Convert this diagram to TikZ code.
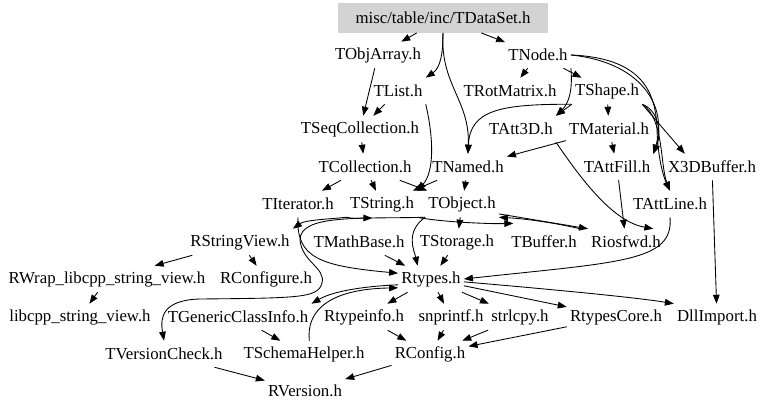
\documentclass[tikz,border=0pt]{standalone}
\usepackage{fontspec}
\setmainfont{Liberation Serif}
\usetikzlibrary{arrows.meta}
\definecolor{incline}{HTML}{000000}
\definecolor{rootfill}{HTML}{D3D3D3}

\begin{document}
\begin{tikzpicture}[x=0.75pt, y=-0.75pt,
  hdr/.style={font=\fontsize{12.6}{14}\selectfont, inner xsep=2.25pt, inner ysep=0pt,
              minimum height=19.5pt},
  root/.style={hdr, fill=rootfill, minimum width=158pt, minimum height=22pt},
  inc/.style={-{Triangle[length=6.75pt,width=5pt]}, draw=incline, line width=0.65pt}
]
\useasboundingbox (0,0) rectangle (768,410);
\node[root] (ds) at (443,18) {misc/table/inc/TDataSet.h};
\node[hdr] (objarray) at (378,55) {TObjArray.h};
\node[hdr] (tnode) at (538,55) {TNode.h};
\node[hdr] (tlist) at (398,91) {TList.h};
\node[hdr] (trotmatrix) at (510,91) {TRotMatrix.h};
\node[hdr] (tshape) at (607,91) {TShape.h};
\node[hdr] (tseqcoll) at (360,129) {TSeqCollection.h};
\node[hdr] (tatt3d) at (521,129) {TAtt3D.h};
\node[hdr] (tmaterial) at (609,129) {TMaterial.h};
\node[hdr] (tcollection) at (365,167) {TCollection.h};
\node[hdr] (tnamed) at (468,167) {TNamed.h};
\node[hdr] (tattfill) at (617,167) {TAttFill.h};
\node[hdr] (x3dbuffer) at (712,167) {X3DBuffer.h};
\node[hdr] (titerator) at (298,204) {TIterator.h};
\node[hdr] (tstring) at (382,204) {TString.h};
\node[hdr] (tobject) at (462,204) {TObject.h};
\node[hdr] (tattline) at (670,204) {TAttLine.h};
\node[hdr] (rstringview) at (240,242) {RStringView.h};
\node[hdr] (tmathbase) at (359,242) {TMathBase.h};
\node[hdr] (tstorage) at (457,242) {TStorage.h};
\node[hdr] (tbuffer) at (544,242) {TBuffer.h};
\node[hdr] (riosfwd) at (626,242) {Riosfwd.h};
\node[hdr] (rwrap) at (107,279) {RWrap\_libcpp\_string\_view.h};
\node[hdr] (rconfigure) at (266,279) {RConfigure.h};
\node[hdr] (rtypes) at (431,279) {Rtypes.h};
\node[hdr] (libcpp) at (80,317) {libcpp\_string\_view.h};
\node[hdr] (tgenericci) at (238,317) {TGenericClassInfo.h};
\node[hdr] (rtypeinfo) at (364,317) {Rtypeinfo.h};
\node[hdr] (snprintf) at (451,317) {snprintf.h};
\node[hdr] (strlcpy) at (520,317) {strlcpy.h};
\node[hdr] (rtypescore) at (616,317) {RtypesCore.h};
\node[hdr] (dllimport) at (717,317) {DllImport.h};
\node[hdr] (tversioncheck) at (164,354) {TVersionCheck.h};
\node[hdr] (tschemahelper) at (304,354) {TSchemaHelper.h};
\node[hdr] (rconfig) at (430,354) {RConfig.h};
\node[hdr] (rversion) at (305,391) {RVersion.h};
\draw[inc] (ds) -- (objarray);
\draw[inc] (ds) -- (tnode);
\draw[inc] (ds.south) .. controls (443,55) and (440,68) .. (tlist.north east);
\draw[inc] (ds.south) .. controls (440,85) and (470,100) .. (tnamed.north);
\draw[inc] (objarray) -- (tseqcoll);
\draw[inc] (tlist) -- (tseqcoll);
\draw[inc] (tlist.south east) .. controls (434,140) and (434,172) .. (tstring.north east);
\draw[inc] (tnode) -- (trotmatrix);
\draw[inc] (tnode) -- (tshape);
\draw[inc] (tnode.south east) .. controls (573,92) and (568,104) .. (tatt3d.north east);
\draw[inc] (tnode.east) .. controls (645,58) and (656,95) .. (657,130) .. controls (658,160) and (664,178) .. (tattline.north);
\draw[inc] (tnode.east) .. controls (640,62) and (668,105) .. (tattfill.north east);
\draw[inc] (tshape) -- (tmaterial);
\draw[inc] (tshape.south west) -- (tatt3d.north east);
\draw[inc] (tshape.south west) .. controls (500,104) and (470,110) .. (tnamed.north);
\draw[inc] (tshape.south east) .. controls (658,110) and (662,132) .. (tattfill.north east);
\draw[inc] (tshape.south east) -- ([xshift=15pt]x3dbuffer.north west);
\draw[inc] (tshape.south east) .. controls (664,118) and (660,165) .. (tattline.north);
\draw[inc] (tmaterial) -- (tnamed);
\draw[inc] (tmaterial) -- (tattfill);
\draw[inc] (tseqcoll) -- (tcollection);
\draw[inc] (tcollection) -- (titerator);
\draw[inc] (tcollection) -- (tstring);
\draw[inc] (tcollection) -- (tobject);
\draw[inc] (tnamed) -- (tstring);
\draw[inc] (tnamed) -- (tobject);
\draw[inc] (tatt3d.south east) .. controls (585,185) and (615,222) .. ([xshift=-8pt]riosfwd.north east);
\draw[inc] (tattfill) -- (riosfwd);
\draw[inc] (tattline.south) .. controls (674,262) and (620,262) .. (rtypes.east);
\draw[inc] (x3dbuffer) -- (dllimport);
\draw[inc] (tstring.south west) .. controls (330,219) and (305,220) .. (rstringview.north east);
\draw[inc] (tstring.south west) .. controls (352,219) and (362,218) .. ([xshift=10pt,yshift=8pt]tmathbase.north);
\draw[inc] (tobject.south west) .. controls (360,219) and (300,214) .. (300,240) .. controls (302,262) and (326,268) .. (322,283) .. controls (318,298) and (300,298) .. (200,299) .. controls (162,300) and (160,318) .. (tversioncheck.north);
\draw[inc] (titerator.south) .. controls (296,258) and (320,266) .. (rtypes.170);
\draw[inc] (tmathbase) -- (rtypes);
\draw[inc] (tstorage) -- (rtypes);
\draw[inc] (tobject.south west) .. controls (405,232) and (414,250) .. ([xshift=-10pt]rtypes.north);
\draw[inc] (tobject) -- (tstorage);
\draw[inc] (tobject.-15) -- (riosfwd.north west);
\draw[inc] (tstring.south east) .. controls (440,222) and (490,224) .. ([xshift=4pt,yshift=4pt]tbuffer.north west);
\draw[inc] (tbuffer.north east) .. controls (560,224) and (530,219) .. (tobject.south east);
\draw[inc] (rstringview) -- (rwrap);
\draw[inc] (rstringview) -- (rconfigure);
\draw[inc] (rwrap) -- (libcpp);
\draw[inc] (rtypes.190) .. controls (370,286) and (335,290) .. (tgenericci.north east);
\draw[inc] ([xshift=4pt]tschemahelper.north) .. controls (306,310) and (330,289) .. (rtypes.195);
\draw[inc] (rtypes) -- (rtypeinfo);
\draw[inc] (rtypes) -- (snprintf);
\draw[inc] (rtypes) -- (strlcpy);
\draw[inc] (rtypes) -- (rtypescore);
\draw[inc] (rtypes.-5) .. controls (560,290) and (640,298) .. (dllimport.north west);
\draw[inc] (tgenericci) -- (tschemahelper);
\draw[inc] (rtypeinfo) -- (rconfig);
\draw[inc] (snprintf) -- (rconfig);
\draw[inc] (strlcpy) -- (rconfig);
\draw[inc] (rtypescore) -- (rconfig);
\draw[inc] (rconfig) -- (rversion);
\draw[inc] (tversioncheck) -- (rversion);
\end{tikzpicture}
\end{document}
